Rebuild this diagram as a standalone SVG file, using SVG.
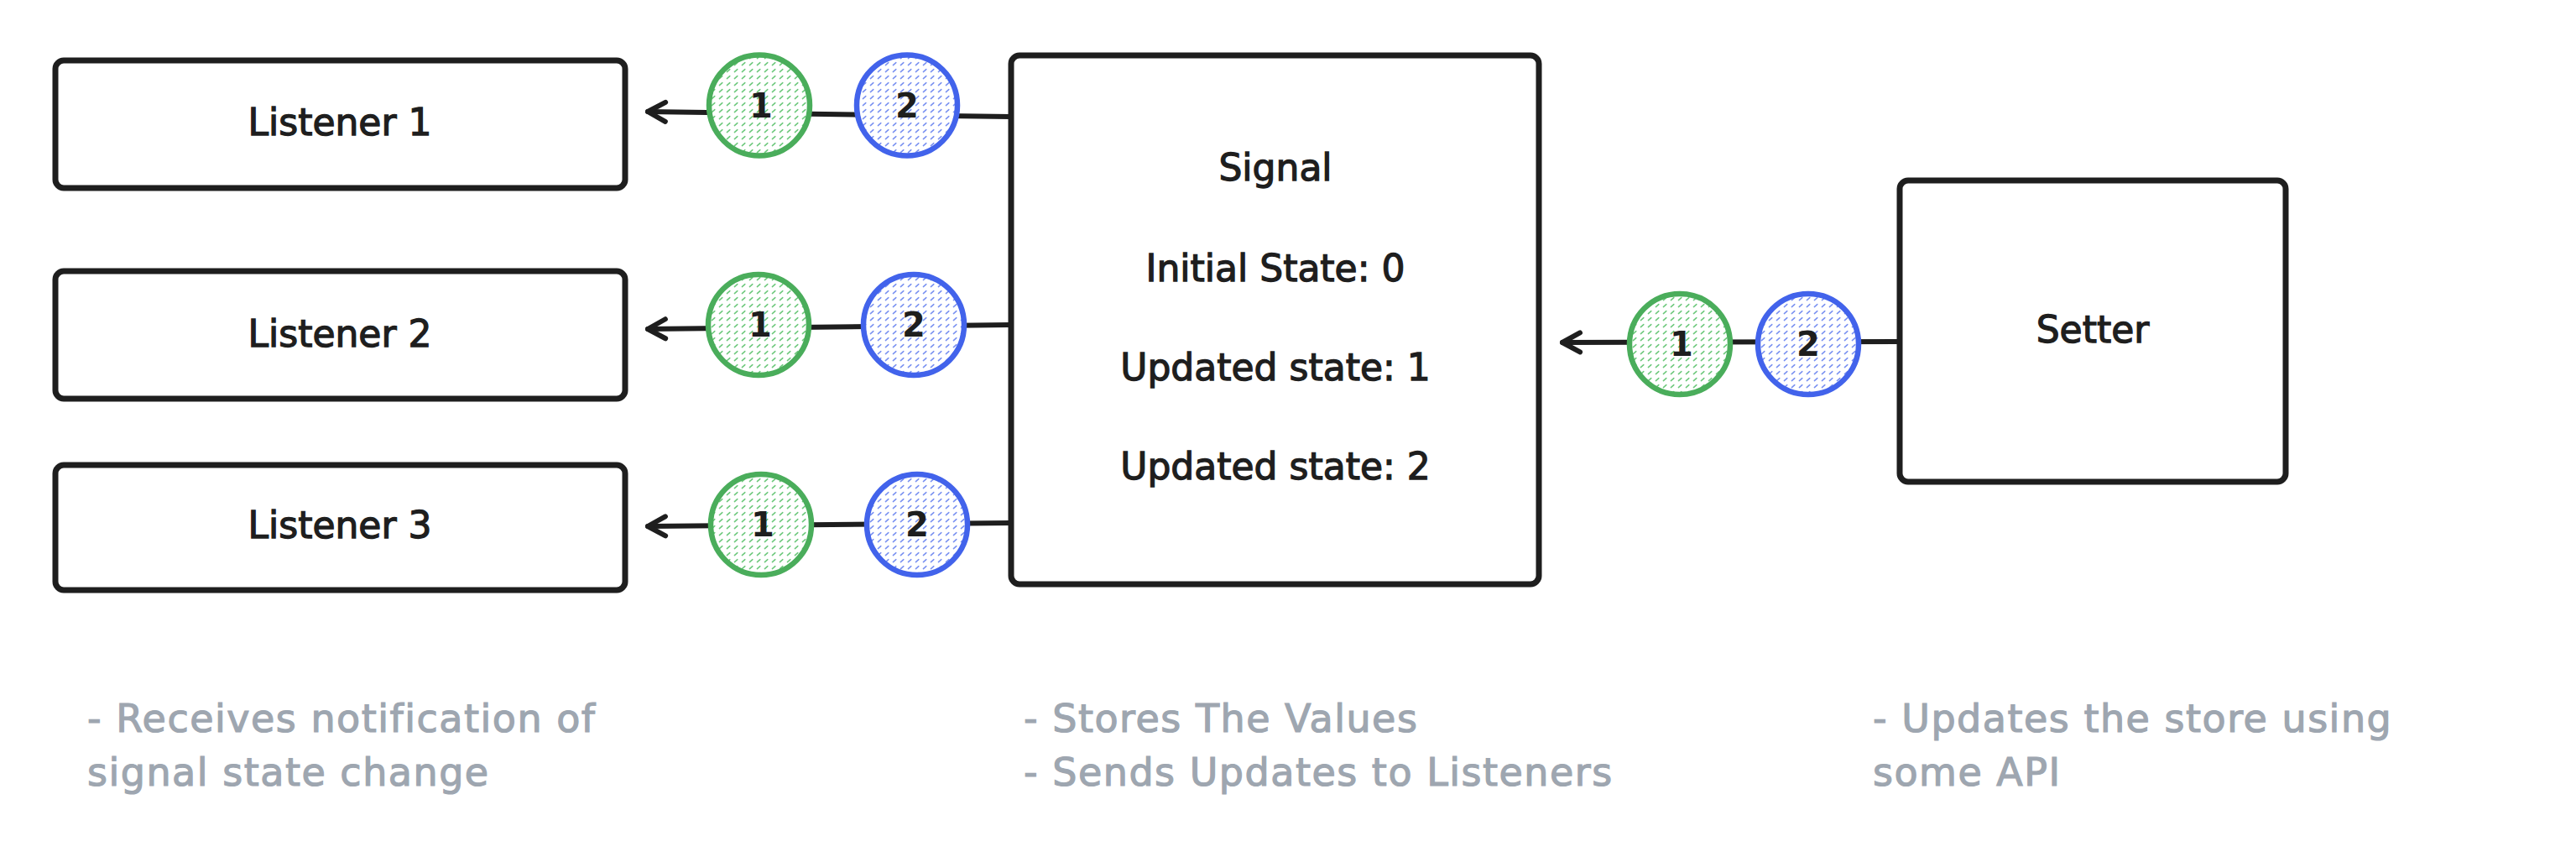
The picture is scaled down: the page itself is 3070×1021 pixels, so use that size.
<svg xmlns="http://www.w3.org/2000/svg" width="3070" height="1021" viewBox="0 0 3070 1021">
<style>
.box{fill:#ffffff;stroke:#1e1e1e;stroke-width:7;stroke-linejoin:round}
.lbl{font-family:"DejaVu Sans","Liberation Sans",sans-serif;font-size:44px;fill:#1e1e1e;stroke:#1e1e1e;stroke-width:1.3px;text-anchor:middle}
.num{font-family:"DejaVu Sans","Liberation Sans",sans-serif;font-size:40px;font-weight:bold;fill:#1e1e1e;text-anchor:middle}
.note{font-family:"DejaVu Sans","Liberation Sans",sans-serif;font-size:46px;fill:#9ea6b0;stroke:#9ea6b0;stroke-width:1.2px;letter-spacing:1.5px}
.conn{fill:none;stroke:#1e1e1e;stroke-width:6;stroke-linecap:round;marker-end:url(#arrow)}
.g{fill:url(#hatchG);stroke:#4aad5b;stroke-width:6.5}
.b{fill:url(#hatchB);stroke:#4263eb;stroke-width:6.5}
</style>
<defs>
<marker id="arrow" markerUnits="userSpaceOnUse" viewBox="-26 -16 30 32" markerWidth="30" markerHeight="32" refX="0" refY="0" orient="auto">
<path d="M-21,-11.5 L0,0 L-21,11.5" fill="none" stroke="#1e1e1e" stroke-width="6" stroke-linecap="round" stroke-linejoin="round"/>
</marker>
<pattern id="hatchG" patternUnits="userSpaceOnUse" width="9" height="8">
<rect width="9" height="8" fill="#ffffff"/>
<line x1="2.4" y1="5.6" x2="5.8" y2="2.6" stroke="#6cc87b" stroke-width="1.5" stroke-linecap="round"/>
</pattern>
<pattern id="hatchB" patternUnits="userSpaceOnUse" width="9" height="8">
<rect width="9" height="8" fill="#ffffff"/>
<line x1="2.4" y1="5.6" x2="5.8" y2="2.6" stroke="#7890f1" stroke-width="1.5" stroke-linecap="round"/>
</pattern>
</defs>
<rect width="3070" height="1021" fill="#ffffff"/>

<g id="connectors">
<path class="conn" d="M1204,139 L772,133"/>
<path class="conn" d="M1204,387 L772,392"/>
<path class="conn" d="M1204,623 L772,627"/>
<path class="conn" d="M2262,407 L1862,408"/>
</g>

<g id="listener1">
<rect class="box" x="66" y="72" width="679" height="152" rx="10"/>
<text class="lbl" x="405" y="161">Listener 1</text>
</g>
<g id="listener2">
<rect class="box" x="66" y="323" width="679" height="152" rx="10"/>
<text class="lbl" x="405" y="413">Listener 2</text>
</g>
<g id="listener3">
<rect class="box" x="66" y="554" width="679" height="149" rx="10"/>
<text class="lbl" x="405" y="641">Listener 3</text>
</g>
<g id="signal">
<rect class="box" x="1205" y="66" width="629" height="630" rx="10"/>
<text class="lbl" x="1520" y="215">Signal</text>
<text class="lbl" x="1520" y="335">Initial State: 0</text>
<text class="lbl" x="1520" y="453">Updated state: 1</text>
<text class="lbl" x="1520" y="571">Updated state: 2</text>
</g>
<g id="setter">
<rect class="box" x="2264" y="215" width="460" height="359" rx="10"/>
<text class="lbl" x="2494" y="408">Setter</text>
</g>

<g id="update1-listener1">
<circle class="g" cx="905" cy="125.5" r="60"/>
<text class="num" x="907" y="140">1</text>
</g>
<g id="update2-listener1">
<circle class="b" cx="1081" cy="125.5" r="60"/>
<text class="num" x="1081" y="140">2</text>
</g>
<g id="update1-listener2">
<circle class="g" cx="904" cy="387" r="60"/>
<text class="num" x="906" y="401">1</text>
</g>
<g id="update2-listener2">
<circle class="b" cx="1089" cy="387" r="60"/>
<text class="num" x="1089" y="401">2</text>
</g>
<g id="update1-listener3">
<circle class="g" cx="907" cy="625" r="60"/>
<text class="num" x="909" y="639">1</text>
</g>
<g id="update2-listener3">
<circle class="b" cx="1093" cy="625" r="60"/>
<text class="num" x="1093" y="639">2</text>
</g>
<g id="update1-setter">
<circle class="g" cx="2002" cy="410" r="60"/>
<text class="num" x="2004" y="424">1</text>
</g>
<g id="update2-setter">
<circle class="b" cx="2155" cy="410" r="60"/>
<text class="num" x="2155" y="424">2</text>
</g>

<g id="note-listeners">
<text class="note" x="104" y="872">- Receives notification of</text>
<text class="note" x="104" y="936">signal state change</text>
</g>
<g id="note-signal">
<text class="note" x="1220" y="872">- Stores The Values</text>
<text class="note" x="1220" y="936">- Sends Updates to Listeners</text>
</g>
<g id="note-setter">
<text class="note" x="2232" y="872">- Updates the store using</text>
<text class="note" x="2232" y="936">some API</text>
</g>
</svg>
